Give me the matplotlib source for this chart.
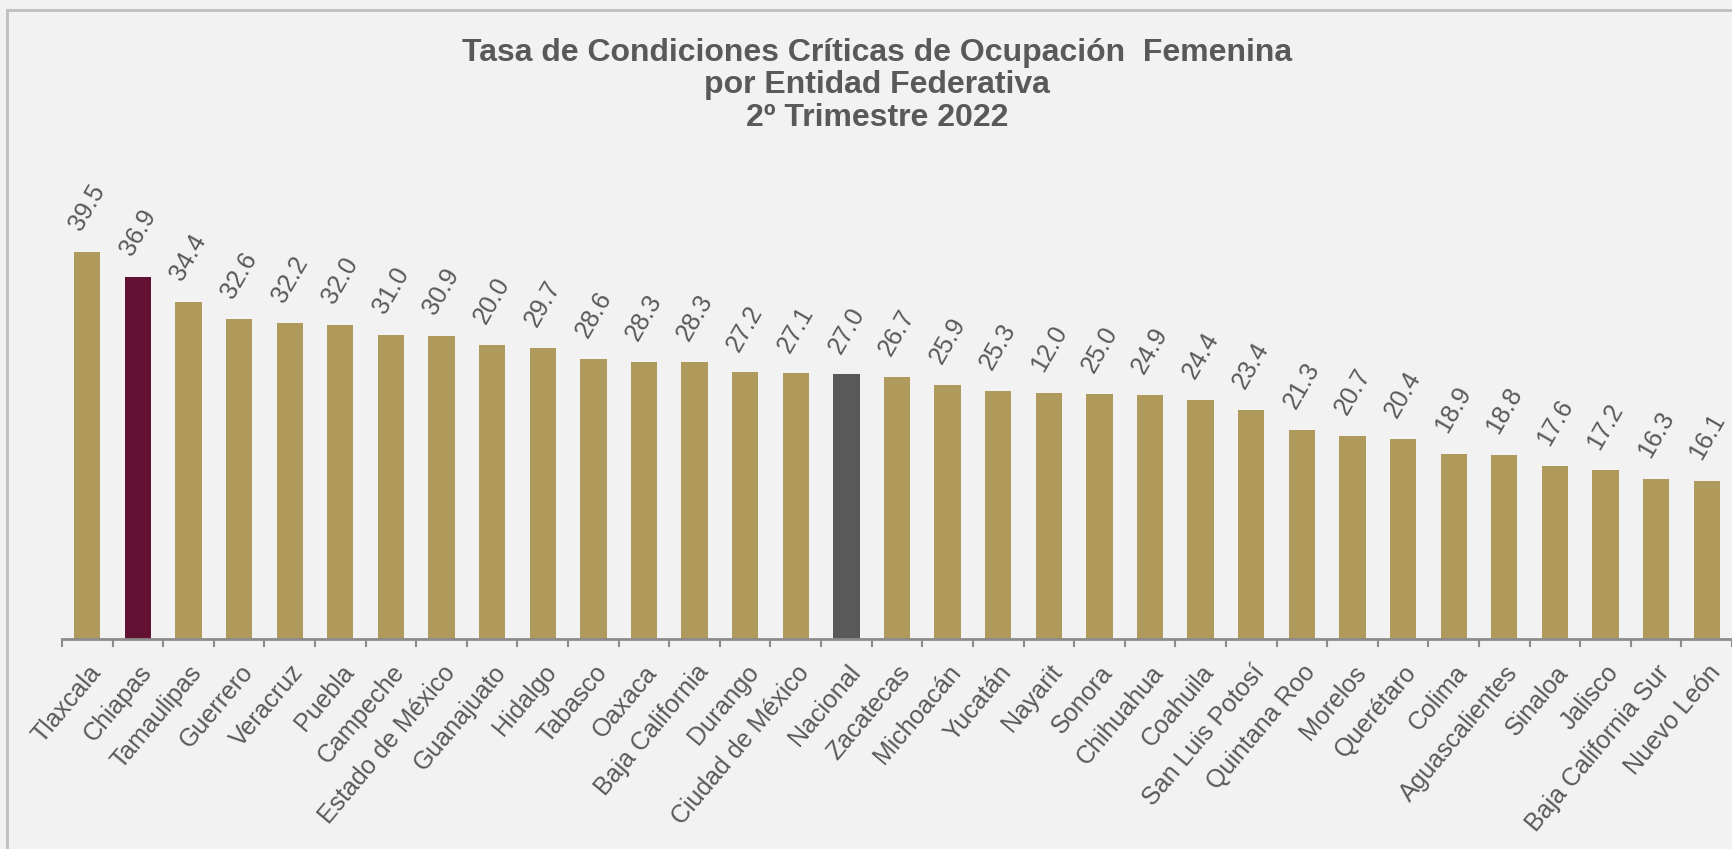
import matplotlib.pyplot as plt
import numpy as np
from matplotlib.patches import Rectangle

plt.rcParams['font.family'] = ['Liberation Sans', 'DejaVu Sans']

estados = ['Tlaxcala', 'Chiapas', 'Tamaulipas', 'Guerrero', 'Veracruz', 'Puebla',
           'Campeche', 'Estado de México', 'Guanajuato', 'Hidalgo', 'Tabasco',
           'Oaxaca', 'Baja California', 'Durango', 'Ciudad de México', 'Nacional',
           'Zacatecas', 'Michoacán', 'Yucatán', 'Nayarit', 'Sonora', 'Chihuahua',
           'Coahuila', 'San Luis Potosí', 'Quintana Roo', 'Morelos', 'Querétaro',
           'Colima', 'Aguascalientes', 'Sinaloa', 'Jalisco', 'Baja California Sur',
           'Nuevo León']
# bar heights
tasa = [39.5, 36.9, 34.4, 32.6, 32.2, 32.0, 31.0, 30.9, 30.0, 29.7, 28.6,
        28.3, 28.3, 27.2, 27.1, 27.0, 26.7, 25.9, 25.3, 25.1, 25.0, 24.9,
        24.4, 23.4, 21.3, 20.7, 20.4, 18.9, 18.8, 17.6, 17.2, 16.3, 16.1]
# data labels exactly as printed on the chart
etiquetas = ['39.5', '36.9', '34.4', '32.6', '32.2', '32.0', '31.0', '30.9', '20.0',
             '29.7', '28.6', '28.3', '28.3', '27.2', '27.1', '27.0', '26.7', '25.9',
             '25.3', '12.0', '25.0', '24.9', '24.4', '23.4', '21.3', '20.7', '20.4',
             '18.9', '18.8', '17.6', '17.2', '16.3', '16.1']

oro = '#B09A5B'
vino = '#621132'
gris = '#595959'
colores = [oro] * len(estados)
colores[estados.index('Chiapas')] = vino
colores[estados.index('Nacional')] = gris

fig = plt.figure(figsize=(17.33, 8.49), dpi=100)
fig.patch.set_facecolor('#F2F2F2')
fig.add_artist(Rectangle((7 / 1733, -0.1), 1.2, 1 - 10 / 849 + 0.1,
                         transform=fig.transFigure, fill=False,
                         edgecolor='#BFBFBF', linewidth=2))

ax = fig.add_axes([62 / 1733, (849 - 639) / 849, 1670 / 1733, 0.5195])
ax.set_facecolor('none')
x = np.arange(len(estados))
ax.bar(x, tasa, width=0.52, color=colores)
ax.set_xlim(-0.5, len(estados) - 0.5)
ax.set_ylim(0, 45)

for xi, v, t in zip(x, tasa, etiquetas):
    ax.annotate(t, (xi, v), xytext=(0, 12.5), textcoords='offset points',
                ha='center', va='bottom', rotation=60, fontsize=18, color=gris)

for s in ['top', 'right', 'left']:
    ax.spines[s].set_visible(False)
ax.spines['bottom'].set_color('#8C8C8C')
ax.spines['bottom'].set_linewidth(2)
ax.set_yticks([])

ax.set_xticks(np.arange(-0.5, len(estados), 1))
ax.set_xticklabels([])
ax.tick_params(axis='x', which='major', length=6, width=1.5, color='#8C8C8C')
ax.set_xticks(x, minor=True)
ax.set_xticklabels(estados, minor=True, rotation=50, ha='right', va='top',
                   rotation_mode='anchor', fontsize=18, color=gris)
ax.tick_params(axis='x', which='minor', length=0, pad=15.5)

titulo = ['Tasa de Condiciones Críticas de Ocupación  Femenina',
          'por Entidad Federativa',
          '2º Trimestre 2022']
for i, linea in enumerate(titulo):
    fig.text(0.506, 1 - (60.7 + 32.7 * i) / 849, linea, ha='center', va='baseline',
             fontsize=23, fontweight='bold', color=gris)

fig.savefig('out.png', dpi=100, facecolor=fig.get_facecolor())
